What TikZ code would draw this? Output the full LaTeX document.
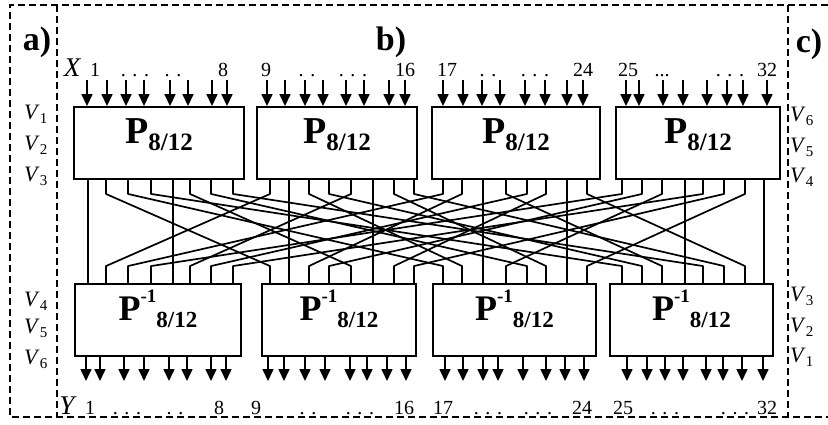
\documentclass[tikz,border=0pt]{standalone}
\usepackage{fontspec}
\setmainfont{Liberation Serif}
\usetikzlibrary{arrows.meta,calc}
\tikzset{block/.style={draw=black,line width=1.9pt,minimum height=72pt,inner sep=0pt},
  wire/.style={line width=1.7pt,line join=round},
  feed/.style={-{Triangle[length=12pt,width=11pt]},line width=1.6pt},
  cutline/.style={line width=1.4pt,dash pattern=on 7pt off 4pt},
  num/.style={font=\fontsize{20}{20}\selectfont,anchor=base,inner sep=0pt},
  vlab/.style={font=\fontsize{22}{22}\selectfont,anchor=base west,inner sep=0pt},
  tag/.style={font=\fontsize{34}{34}\selectfont\bfseries,anchor=base,inner sep=0pt}}
\newcommand{\vv}[1]{\textit{V}\raisebox{-4pt}{\fontsize{15}{15}\selectfont#1}}
\newcommand{\toplab}{\bfseries{\fontsize{38}{38}\selectfont P}\raisebox{-7pt}{\fontsize{25}{25}\selectfont 8/12}}
\newcommand{\botlab}{\bfseries{\fontsize{36}{36}\selectfont P}\raisebox{18pt}{\fontsize{19}{19}\selectfont -1}\raisebox{-7pt}{\fontsize{23}{23}\selectfont 8/12}}

\begin{document}
\begin{tikzpicture}[x=1pt,y=-1pt]
  \useasboundingbox (0,0) rectangle (828,424);
  % dashed frame
  \draw[cutline] (828,5) -- (10,5) -- (10,417) -- (828,417);
  \draw[cutline] (57,5) -- (57,417);
  \draw[cutline] (788,5) -- (788,417);
  \node[tag] (ta) at (37,50) {a)};
  \node[tag] (tb) at (391,50) {b)};
  \node[tag] (tc) at (809,52) {c)};
  % blocks
  \foreach \n/\l/\r in {1/74/244,2/257/417,3/432/600,4/616/780} {
    \node[block,minimum width={(\r-\l)*1pt}] (P\n) at ({(\l+\r)/2},143) {};
    \node[anchor=base,inner sep=0pt] (PL\n) at (P\n.center) {\toplab};
  }
  \foreach \n/\l/\r in {1/75/241,2/262/416,3/433/596,4/610/773} {
    \node[block,minimum width={(\r-\l)*1pt}] (Q\n) at ({(\l+\r)/2},320) {};
    \node[anchor=base,inner sep=0pt] (QL\n) at (Q\n.center) {\botlab};
  }
  % ports between the two rows
  \foreach \n/\xs in {1/{88,106,128,151,173,190,211,233},2/{270,289,309,329,351,373,394,414},
      3/{443,462,483,506,527,546,567,587},4/{622,642,662,685,703,724,745,764}}
    \foreach \x [count=\j] in \xs {
      \coordinate (t-\n-\j) at (\x,0 |- P\n.south);
      \coordinate (b-\n-\j) at (\x,0 |- Q\n.north);
    }
  \foreach \i in {1,...,4}
    \foreach \j in {1,...,8} {
      \pgfmathtruncatemacro{\k}{mod(\j-1,4)+1}
      \pgfmathtruncatemacro{\m}{\j-\k+\i}
      \draw[wire] (t-\i-\j) -- ++(0,14) -- ($(b-\k-\m)+(0,-17)$) -- (b-\k-\m);
    }
  % inputs and outputs
  \foreach \n/\xs in {1/{87,107,126,144,170,188,212,227},2/{267,285,305,323,346,364,389,405},
      3/{443,463,482,500,525,545,567,583},4/{626,639,663,683,707,727,743,767}}
    \foreach \x [count=\j] in \xs {
      \coordinate (x-\n-\j) at (\x,80);
      \draw[feed] (x-\n-\j) -- (x-\n-\j |- P\n.north);
    }
  \foreach \n/\xs in {1/{86,100,124,144,169,187,211,226},2/{268,284,305,325,350,367,387,406},
      3/{445,463,483,498,523,546,565,584},4/{627,647,665,683,706,723,742,763}}
    \foreach \x [count=\j] in \xs {
      \coordinate (y-\n-\j) at (\x,381);
      \draw[feed] (y-\n-\j |- Q\n.south) -- (y-\n-\j);
    }
  % index labels
  \node[num,font=\fontsize{27}{27}\selectfont\itshape] (X) at (72,76) {X};
  \foreach \x/\t [count=\c] in {95/1,135/{. . .},173/{. .},223/8,266/9,307/{. .},353/{. . .},405/16,
      447/17,488/{. .},535/{. . .},583/24,628/25,662/{...},730/{. . .},767/32}
    \node[num] (tn\c) at (\x,76) {\t};
  \node[num,font=\fontsize{27}{27}\selectfont\itshape] (Y) at (67,414) {Y};
  \foreach \x/\t [count=\c] in {90/1,127/{. . .},175/{. .},219/8,256/9,308/{. .},360/{. . .},404/16,
      443/17,488/{. . .},538/{. . .},582/24,623/25,665/{. . .},735/{. . .},767/32}
    \node[num] (bn\c) at (\x,414) {\t};
  % V labels
  \foreach \t/\y [count=\c] in {1/119,2/150,3/181}
    \node[vlab] (vl\c) at (24,\y) {\vv{\t}};
  \foreach \t/\y [count=\c] in {6/121,5/152,4/182}
    \node[vlab] (vr\c) at (790,\y) {\vv{\t}};
  \foreach \t/\y [count=\c] in {4/306,5/333,6/364}
    \node[vlab] (wl\c) at (24,\y) {\vv{\t}};
  \foreach \t/\y [count=\c] in {3/301,2/332,1/362}
    \node[vlab] (wr\c) at (790,\y) {\vv{\t}};
\end{tikzpicture}
\end{document}
